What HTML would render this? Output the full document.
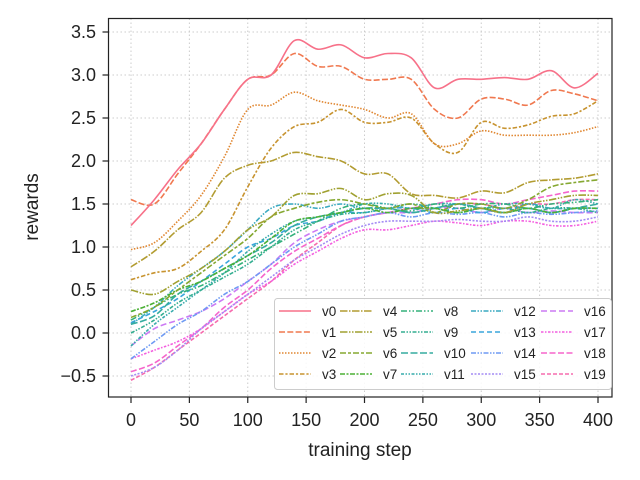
<!DOCTYPE html>
<html><head><meta charset="utf-8"><style>
body{margin:0;background:#fff;}
svg{display:block;font-family:"Liberation Sans",Arial,sans-serif;}
</style></head><body>
<svg id="chart" width="640" height="480" viewBox="0 0 640 480">
<rect x="0" y="0" width="640" height="480" fill="#fff"/>
<g id="grid"></g>
<g id="series"></g>
<rect x="108.5" y="18.5" width="503.5" height="378.5" fill="none" stroke="#222" stroke-width="1.2"/>
<g id="axes"></g>
<text x="360" y="456" text-anchor="middle" font-size="19" fill="#222">training step</text>
<text transform="translate(38,207) rotate(-90)" text-anchor="middle" font-size="19" fill="#222">rewards</text>
<g id="legend"></g>
</svg>
<script>
const steps=[0,20,40,60,80,100,120,140,160,180,200,220,240,260,280,300,320,340,360,380,400];
const xTicks=[0,50,100,150,200,250,300,350,400];
const yTicks=[-0.5,0,0.5,1.0,1.5,2.0,2.5,3.0,3.5];
const yTickLabels=["\u22120.5","0.0","0.5","1.0","1.5","2.0","2.5","3.0","3.5"];
const seriesNames=["v0","v1","v2","v3","v4","v5","v6","v7","v8","v9","v10","v11","v12","v13","v14","v15","v16","v17","v18","v19"];
const v0=[1.25,1.55,1.9,2.2,2.6,2.95,3.0,3.4,3.3,3.35,3.2,3.25,3.2,2.85,2.95,2.95,2.97,2.95,3.05,2.85,3.02];
const v1=[1.55,1.5,1.85,2.2,2.6,2.95,3.0,3.25,3.1,3.1,2.95,2.95,2.95,2.6,2.5,2.72,2.72,2.65,2.82,2.78,2.7];
const v2=[0.97,1.05,1.3,1.6,2.05,2.6,2.65,2.8,2.7,2.65,2.6,2.5,2.55,2.2,2.2,2.35,2.3,2.3,2.3,2.33,2.4];
const v3=[0.62,0.7,0.75,0.95,1.2,1.7,2.15,2.4,2.45,2.6,2.45,2.45,2.5,2.2,2.1,2.45,2.38,2.42,2.52,2.55,2.7];
const v4=[0.77,0.95,1.2,1.4,1.8,1.95,2.0,2.1,2.05,2.0,1.85,1.85,1.62,1.6,1.57,1.65,1.63,1.75,1.78,1.8,1.85];
const v5=[0.5,0.45,0.6,0.75,0.95,1.2,1.35,1.6,1.62,1.68,1.55,1.62,1.6,1.4,1.42,1.45,1.4,1.5,1.55,1.6,1.6];
const v6=[0.18,0.3,0.5,0.7,0.9,1.1,1.35,1.45,1.52,1.55,1.5,1.45,1.5,1.4,1.5,1.5,1.45,1.55,1.7,1.75,1.78];
const v7=[0.25,0.35,0.5,0.6,0.75,0.9,1.1,1.3,1.35,1.4,1.45,1.4,1.45,1.45,1.4,1.45,1.4,1.45,1.4,1.45,1.45];
const v8=[0.15,0.3,0.45,0.55,0.7,0.85,1.0,1.15,1.3,1.45,1.5,1.45,1.42,1.5,1.45,1.5,1.5,1.45,1.5,1.52,1.55];
const v9=[0.0,0.15,0.35,0.5,0.65,0.8,1.0,1.2,1.3,1.38,1.4,1.45,1.5,1.45,1.4,1.45,1.45,1.4,1.45,1.45,1.4];
const v10=[0.1,0.2,0.45,0.6,0.75,0.9,1.05,1.25,1.35,1.4,1.45,1.45,1.4,1.45,1.5,1.45,1.4,1.45,1.4,1.45,1.5];
const v11=[-0.15,0.1,0.3,0.5,0.7,0.95,1.15,1.3,1.35,1.4,1.5,1.5,1.45,1.5,1.5,1.45,1.5,1.5,1.45,1.55,1.5];
const v12=[0.1,0.3,0.55,0.75,0.95,1.2,1.45,1.5,1.45,1.5,1.45,1.45,1.4,1.45,1.5,1.45,1.4,1.5,1.45,1.45,1.45];
const v13=[0.12,0.25,0.4,0.6,0.8,1.0,1.1,1.25,1.3,1.4,1.4,1.45,1.45,1.4,1.45,1.4,1.45,1.45,1.4,1.45,1.45];
const v14=[-0.3,-0.1,0.1,0.25,0.45,0.6,0.8,1.0,1.15,1.3,1.35,1.4,1.35,1.4,1.38,1.4,1.35,1.4,1.38,1.4,1.42];
const v15=[-0.5,-0.4,-0.2,0.05,0.25,0.45,0.65,0.85,1.0,1.15,1.25,1.3,1.3,1.3,1.32,1.3,1.3,1.35,1.3,1.3,1.35];
const v16=[-0.15,0.05,0.15,0.25,0.4,0.6,0.8,1.05,1.2,1.3,1.35,1.4,1.4,1.45,1.45,1.4,1.45,1.4,1.42,1.4,1.4];
const v17=[-0.3,-0.2,-0.1,0.05,0.25,0.45,0.6,0.8,0.95,1.1,1.2,1.2,1.25,1.3,1.28,1.25,1.3,1.3,1.25,1.25,1.3];
const v18=[-0.45,-0.35,-0.15,0.05,0.3,0.5,0.75,0.95,1.1,1.25,1.35,1.4,1.45,1.5,1.55,1.55,1.5,1.55,1.6,1.65,1.65];
const v19=[-0.55,-0.4,-0.2,0.0,0.2,0.4,0.6,0.85,1.05,1.25,1.35,1.4,1.45,1.45,1.5,1.5,1.45,1.5,1.5,1.55,1.55];
const allSeries=[v0,v1,v2,v3,v4,v5,v6,v7,v8,v9,v10,v11,v12,v13,v14,v15,v16,v17,v18,v19];

const colors=["#f77189","#f0784f","#e08630","#c7932f","#b29c31","#a0a131","#85a831","#4bb035","#33b07a","#34ae91","#35ac9f","#36abac","#38a9c0","#3aa5dc","#6e9af3","#a48cf4","#cc7af4","#f45fe0","#f565cc","#f66bad"];
const dashes=["","6,2.3","1.5,1.5","4.5,1.9,2.2,1.9","7.5,1.5,1.5,1.5","7.5,1.5,1.5,1.5,1.5,1.5","6,2,3,2","5,1.5,2,1.5","6,2,1.5,2,1.5,2","4,1.5,1.5,1.5,1.5,1.5","7,2.5","3,1.5,1.5,1.5,1.5,1.5","5,1.5,1.5,1.5,1.5,1.5","5,3","5,1.5,1.5,1.5,1.5,1.5","2,1.5","6,3","2.5,1.5,1.5,1.5","6,2.5","4,2"];

const NS="http://www.w3.org/2000/svg";
const L=108.5,R=612,T=18.5,B=397;
function xs(v){return 131+(v-0)*(598-131)/400;}
function ys(v){return 333-v*86;}
function mk(tag,attrs,parent){const e=document.createElementNS(NS,tag);for(const k in attrs)e.setAttribute(k,attrs[k]);parent.appendChild(e);return e;}

const grid=document.getElementById('grid'),axes=document.getElementById('axes');
xTicks.forEach(t=>{
  const g=mk('line',{x1:xs(t),x2:xs(t),y1:T,y2:B,stroke:'#cccccc','stroke-width':1,'stroke-dasharray':'1.5,2.5'},grid);
  
  
  const tk=mk('line',{x1:xs(t),x2:xs(t),y1:B,y2:B+6,stroke:'#222','stroke-width':1.2},axes);
  
  
  const lb=mk('text',{x:xs(t),y:426,'text-anchor':'middle','font-size':18,fill:'#222'},axes);
  lb.textContent=String(t);
  
  
});
yTicks.forEach((t,i)=>{
  const g=mk('line',{x1:L,x2:R,y1:ys(t),y2:ys(t),stroke:'#cccccc','stroke-width':1,'stroke-dasharray':'1.5,2.5'},grid);
  
  
  const tk=mk('line',{x1:L-6,x2:L,y1:ys(t),y2:ys(t),stroke:'#222','stroke-width':1.2},axes);
  
  
  const lb=mk('text',{x:96,y:ys(t)+6,'text-anchor':'end','font-size':18,fill:'#222'},axes);
  lb.textContent=yTickLabels[i];
  
  
});

function smoothPath(pts){
  let d='M'+pts[0][0].toFixed(1)+','+pts[0][1].toFixed(1);
  for(let i=0;i<pts.length-1;i++){
    const p0=pts[Math.max(i-1,0)],p1=pts[i],p2=pts[i+1],p3=pts[Math.min(i+2,pts.length-1)];
    const c1x=p1[0]+(p2[0]-p0[0])/6,c1y=p1[1]+(p2[1]-p0[1])/6;
    const c2x=p2[0]-(p3[0]-p1[0])/6,c2y=p2[1]-(p3[1]-p1[1])/6;
    d+=' C'+c1x.toFixed(1)+','+c1y.toFixed(1)+' '+c2x.toFixed(1)+','+c2y.toFixed(1)+' '+p2[0].toFixed(1)+','+p2[1].toFixed(1);
  }
  return d;
}
const sg=document.getElementById('series');
for(let s=allSeries.length-1;s>=0;s--){
  const pts=steps.map((st,i)=>[xs(st),ys(allSeries[s][i])]);
  const p=mk('path',{d:smoothPath(pts),fill:'none',stroke:colors[s],'stroke-width':1.6,'stroke-dasharray':dashes[s]||'none','stroke-linejoin':'round'},sg);
  
  
}

const lg=document.getElementById('legend');
const box=mk('rect',{x:274.5,y:298.5,width:337,height:91,rx:3,fill:'#fff','fill-opacity':0.85,stroke:'#cccccc','stroke-width':1},lg);


const colX=[279,340,401,471,541];
const rowY=[311,332,353,374];
seriesNames.forEach((n,i)=>{
  const c=Math.floor(i/4),r=i%4;
  const g=mk('g',{},lg);
  
  
  mk('line',{x1:colX[c],x2:colX[c]+32,y1:rowY[r],y2:rowY[r],stroke:colors[i],'stroke-width':1.6,'stroke-dasharray':dashes[i]||'none'},g);
  const t=mk('text',{x:colX[c]+43,y:rowY[r]+5,'font-size':13.5,fill:'#222'},g);
  t.textContent=n;
});
</script>
</body></html>
